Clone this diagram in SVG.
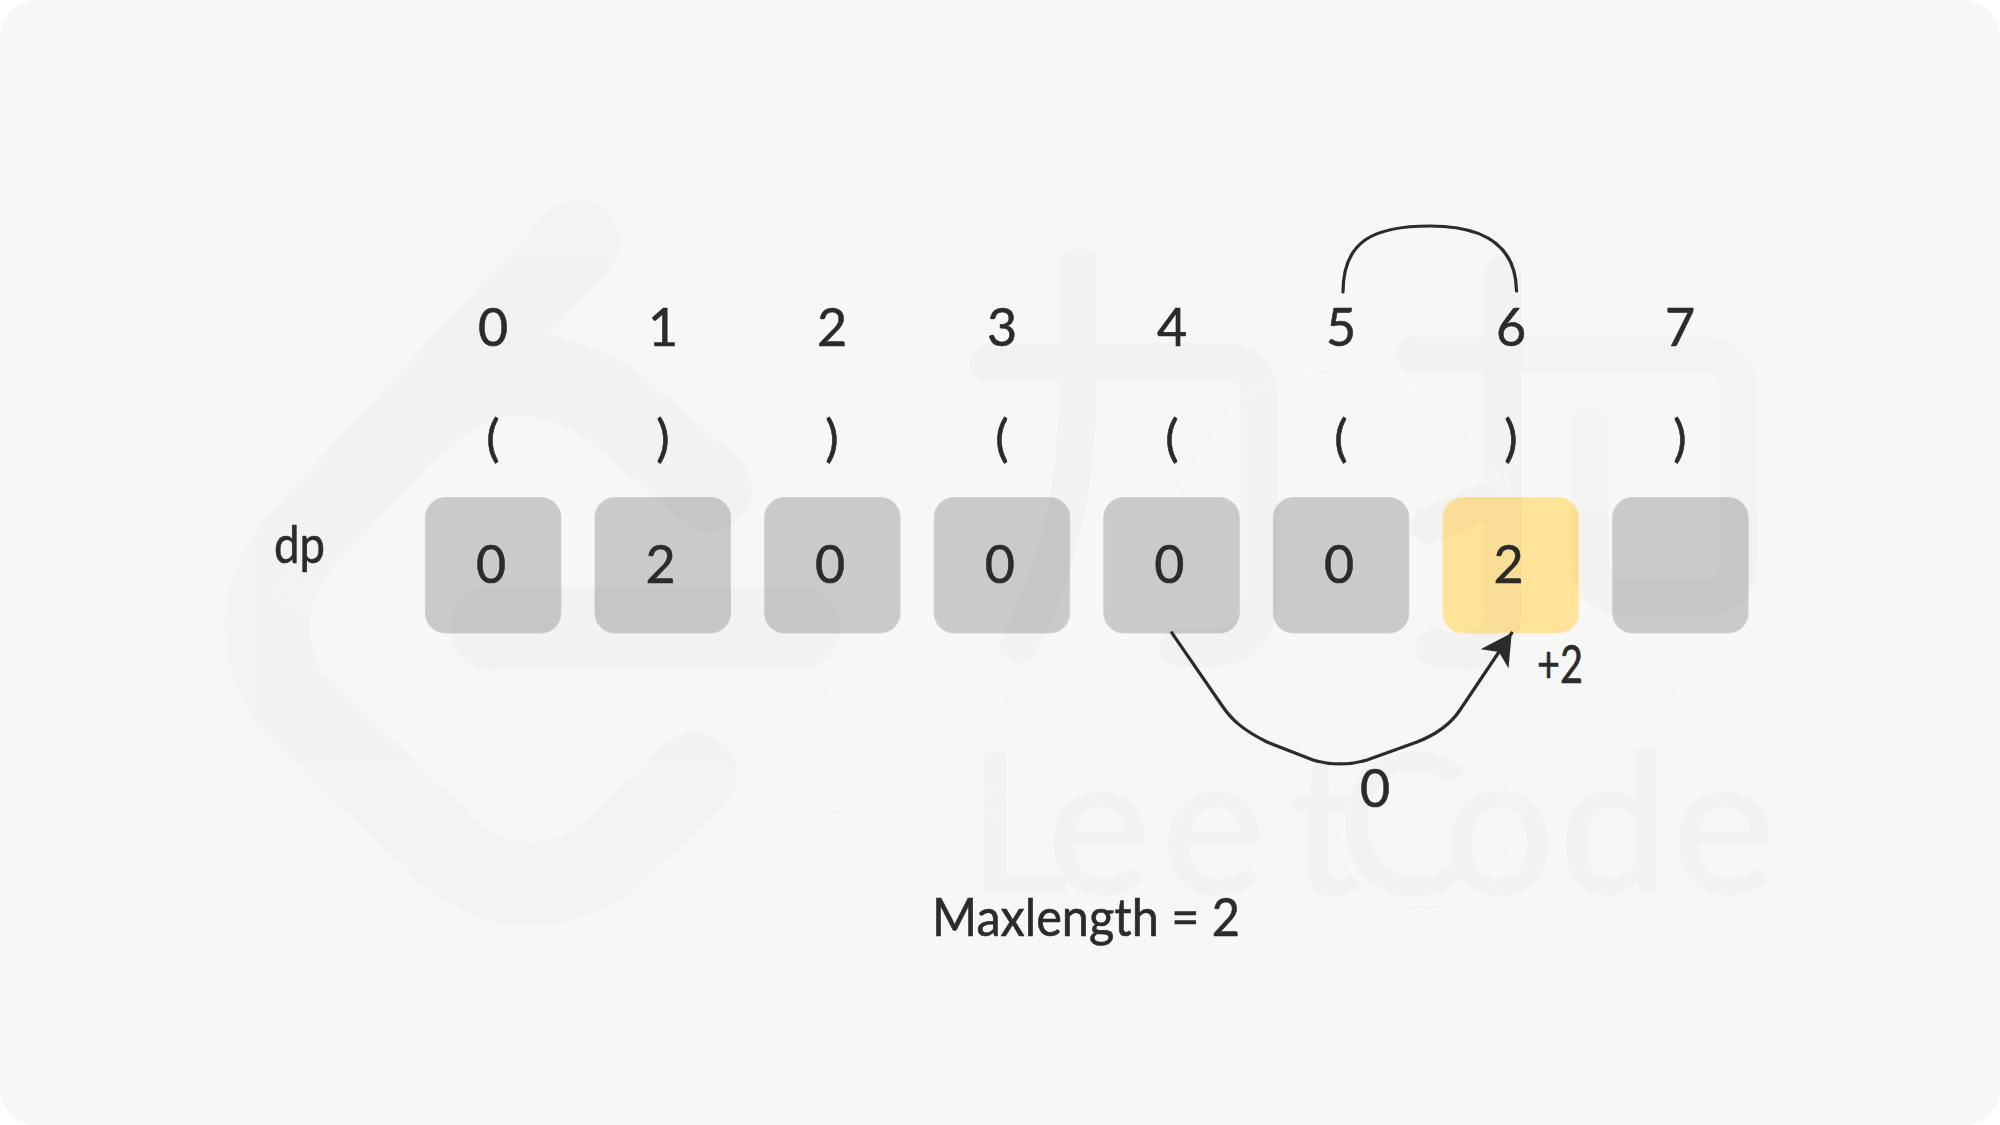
<svg xmlns="http://www.w3.org/2000/svg" width="2000" height="1125" viewBox="0 0 2000 1125">
<style>
text{font-family:"Lato","DejaVu Sans",sans-serif;fill:#2b2b2b;text-anchor:middle}
.d{font-size:52px}
.p{font-size:50px}
.box{fill:#cacaca;stroke:#d1d1d1;stroke-width:1}
.hi{fill:#ffe398;stroke:#ffe7a8;stroke-width:1}
.cell text,#labels text{stroke:#2b2b2b;stroke-width:.6;stroke-linejoin:round}
.wm{fill:none;stroke:#000;stroke-width:84;stroke-linecap:round;stroke-linejoin:round}
.wm2{fill:none;stroke:#000;stroke-width:37;stroke-linecap:round;stroke-linejoin:round}
.wmt{font-size:195px;fill:#000;stroke:#000;stroke-width:3;stroke-linejoin:round;text-anchor:start}
.g text{fill:none;stroke:#fff;stroke-opacity:.45;stroke-width:.7}
.gl{fill:none;stroke:#fff;stroke-opacity:.6;stroke-width:1}
.line{fill:none;stroke:#2b2b2b;stroke-width:3.2;stroke-linecap:round;stroke-linejoin:round}
</style>
<defs>
<marker id="ah" markerUnits="userSpaceOnUse" markerWidth="40" markerHeight="40" refX="31" refY="17" orient="auto"><path d="M0 0L31 17L0 34L8 17Z" fill="#2b2b2b"/></marker>
</defs>
<rect width="2000" height="1125" fill="#fff"/>
<rect id="background" width="2000" height="1125" rx="37" fill="#f7f7f7"/>

<g id="ghosts" class="g">
<text class="d" x="1086" y="207" textLength="308" lengthAdjust="spacingAndGlyphs">Maxlength = 2</text>
<text class="d" x="299" y="607" textLength="51" lengthAdjust="spacingAndGlyphs">dp</text>
<text class="d" x="1373" y="362">0</text>
<text class="d" x="1560" y="482" textLength="46" lengthAdjust="spacingAndGlyphs">+2</text>
<text class="p" x="493" y="718">(</text><text class="p" x="663" y="718">)</text><text class="p" x="832" y="718">)</text><text class="p" x="1002" y="718">(</text><text class="p" x="1172" y="718">(</text><text class="p" x="1341" y="718">(</text><text class="p" x="1511" y="718">)</text><text class="p" x="1680" y="718">)</text>
<text class="d" x="493" y="820">0</text><text class="d" x="663" y="820">1</text><text class="d" x="832" y="820">2</text><text class="d" x="1002" y="820">3</text><text class="d" x="1172" y="820">4</text><text class="d" x="1341" y="820">5</text><text class="d" x="1511" y="820">6</text><text class="d" x="1680" y="820">7</text>
<path class="gl" d="M1174 497L1238 402Q1262 380 1328 368H1354Q1420 385 1457 413L1508 495M1484 482L1508 495L1506 467"/>
<path class="gl" d="M1342 835Q1345 880 1383 900Q1427 910 1467 900Q1510 880 1512 838"/>
</g>

<g id="n0" class="cell"><rect class="box" x="425.4" y="497.5" width="135.5" height="135.5" rx="20"/><text class="d" x="491" y="583">0</text></g>
<g id="n1" class="cell"><rect class="box" x="595" y="497.5" width="135.5" height="135.5" rx="20"/><text class="d" x="660.6" y="583">2</text></g>
<g id="n2" class="cell"><rect class="box" x="764.6" y="497.5" width="135.5" height="135.5" rx="20"/><text class="d" x="830.2" y="583">0</text></g>
<g id="n3" class="cell"><rect class="box" x="934.2" y="497.5" width="135.5" height="135.5" rx="20"/><text class="d" x="999.8" y="583">0</text></g>
<g id="n4" class="cell"><rect class="box" x="1103.8" y="497.5" width="135.5" height="135.5" rx="20"/><text class="d" x="1169.4" y="583">0</text></g>
<g id="n5" class="cell"><rect class="box" x="1273.4" y="497.5" width="135.5" height="135.5" rx="20"/><text class="d" x="1339" y="583">0</text></g>
<g id="n6" class="cell"><rect class="hi" x="1443" y="497.5" width="135.5" height="135.5" rx="20"/><text class="d" x="1508.6" y="583">2</text></g>
<g id="n7" class="cell"><rect class="box" x="1612.6" y="497.5" width="135.5" height="135.5" rx="20"/></g>

<g id="watermark" opacity=".015">
<path class="wm" d="M577.6 241.4L297.4 545C276.5 573 267.3 598.6 267.3 624C267.3 660 281.6 693 297 706L434.7 838C460 869 496 884 529 884C562 884 598 869 623.5 843.5L695 774.6"/>
<path class="wm" d="M710 489L608 402C580 385 550 374 516 374C480 374 445 395 419 420"/>
<path class="wm" d="M492 628H798"/>
<path class="wm2" d="M988 362H1225Q1259 362 1259 396V600Q1259 648 1210 648H1178"/>
<path class="wm2" d="M1078 265V380C1078 480 1060 570 1018 645"/>
<path class="wm2" d="M1415 355H1700Q1739 355 1739 394V558Q1739 598 1700 598H1630Q1590 598 1590 558V425"/>
<path class="wm2" d="M1503 275V610Q1503 650 1460 652L1435 648"/>
<path class="wm2" d="M1430 525L1503 495"/>
<text class="wmt" x="968 1047 1162 1290 1338 1444 1559 1672" y="893">LeetCode</text>
</g>

<g id="labels">
<text class="d" x="493" y="346">0</text><text class="d" x="663" y="346">1</text><text class="d" x="832" y="346">2</text><text class="d" x="1002" y="346">3</text><text class="d" x="1172" y="346">4</text><text class="d" x="1341" y="346">5</text><text class="d" x="1511" y="346">6</text><text class="d" x="1680" y="346">7</text>
<text class="p" x="493" y="456">(</text><text class="p" x="663" y="456">)</text><text class="p" x="832" y="456">)</text><text class="p" x="1002" y="456">(</text><text class="p" x="1172" y="456">(</text><text class="p" x="1341" y="456">(</text><text class="p" x="1511" y="456">)</text><text class="p" x="1680" y="456">)</text>
<text class="d" x="299.5" y="563" textLength="51" lengthAdjust="spacingAndGlyphs">dp</text>
<text class="d" x="1560" y="683" textLength="46" lengthAdjust="spacingAndGlyphs">+2</text>
<text class="d" x="1375" y="807">0</text>
<text class="d" x="1086" y="936" textLength="308" lengthAdjust="spacingAndGlyphs">Maxlength = 2</text>
</g>

<g id="connectors">
<path class="line" d="M1343 292C1343 240 1375 226 1430 226C1490 226 1516 250 1516.5 291"/>
<path class="line" marker-end="url(#ah)" d="M1171.7 632.7L1223 707C1232 720 1243 730 1267 742L1313 760C1330 765 1350 765 1367 760L1417 742C1435 735 1450 725 1460 710L1511.7 633"/>
</g>
</svg>
